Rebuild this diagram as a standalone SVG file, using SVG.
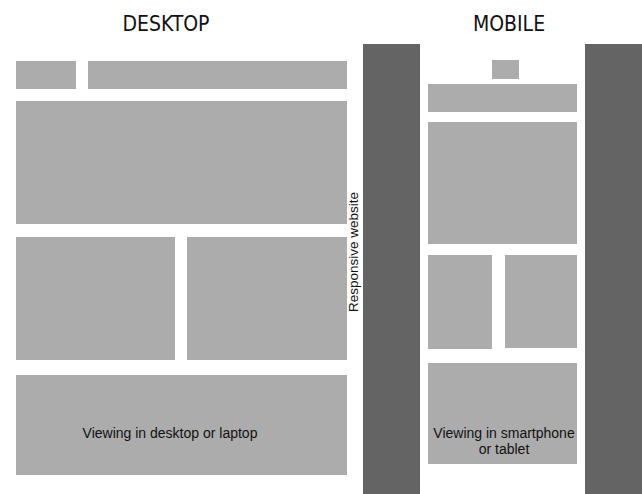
<svg xmlns="http://www.w3.org/2000/svg" width="642" height="494" viewBox="0 0 642 494">
<style>
.box{fill:#acacac}
.bar{fill:#646464}
.title{font-family:"DejaVu Sans Condensed","DejaVu Sans",sans-serif;font-stretch:condensed;font-size:21px;fill:#111;text-anchor:middle}
.lbl{font-family:"Liberation Sans",Arial,sans-serif;font-size:14px;fill:#111;text-anchor:middle}
</style>
<rect width="642" height="494" fill="#ffffff"/>
<g id="titles">
<text class="title" x="166" y="30.5">DESKTOP</text>
<text class="title" x="509" y="30.5">MOBILE</text>
</g>
<g id="phone-frame">
<rect class="bar" x="363" y="44" width="57" height="450"/>
<rect class="bar" x="585" y="44" width="57" height="450"/>
</g>
<g id="desktop">
<rect id="d-logo" class="box" x="16" y="61" width="60" height="28"/>
<rect id="d-nav" class="box" x="88" y="61" width="259" height="28"/>
<rect id="d-hero" class="box" x="16" y="101" width="331" height="123"/>
<rect id="d-col1" class="box" x="16" y="237" width="159" height="123"/>
<rect id="d-col2" class="box" x="187" y="237" width="160" height="123"/>
<rect id="d-footer" class="box" x="16" y="375" width="331" height="100"/>
<text class="lbl" x="170" y="438">Viewing in desktop or laptop</text>
</g>
<g id="mobile">
<rect id="m-logo" class="box" x="492" y="60" width="27" height="19"/>
<rect id="m-nav" class="box" x="428" y="84" width="149" height="28"/>
<rect id="m-hero" class="box" x="428" y="122" width="149" height="122"/>
<rect id="m-col1" class="box" x="428" y="255" width="64" height="94"/>
<rect id="m-col2" class="box" x="505" y="255" width="72" height="93"/>
<rect id="m-footer" class="box" x="428" y="363" width="149" height="101"/>
<text class="lbl" x="504" y="438.3">Viewing in smartphone</text>
<text class="lbl" x="504" y="454.3">or tablet</text>
</g>
<g id="side-label">
<text class="lbl" font-size="13.5" transform="translate(358,252) rotate(-90)" style="font-size:13.5px">Responsive website</text>
</g>
<g id="connectors"/>
</svg>
